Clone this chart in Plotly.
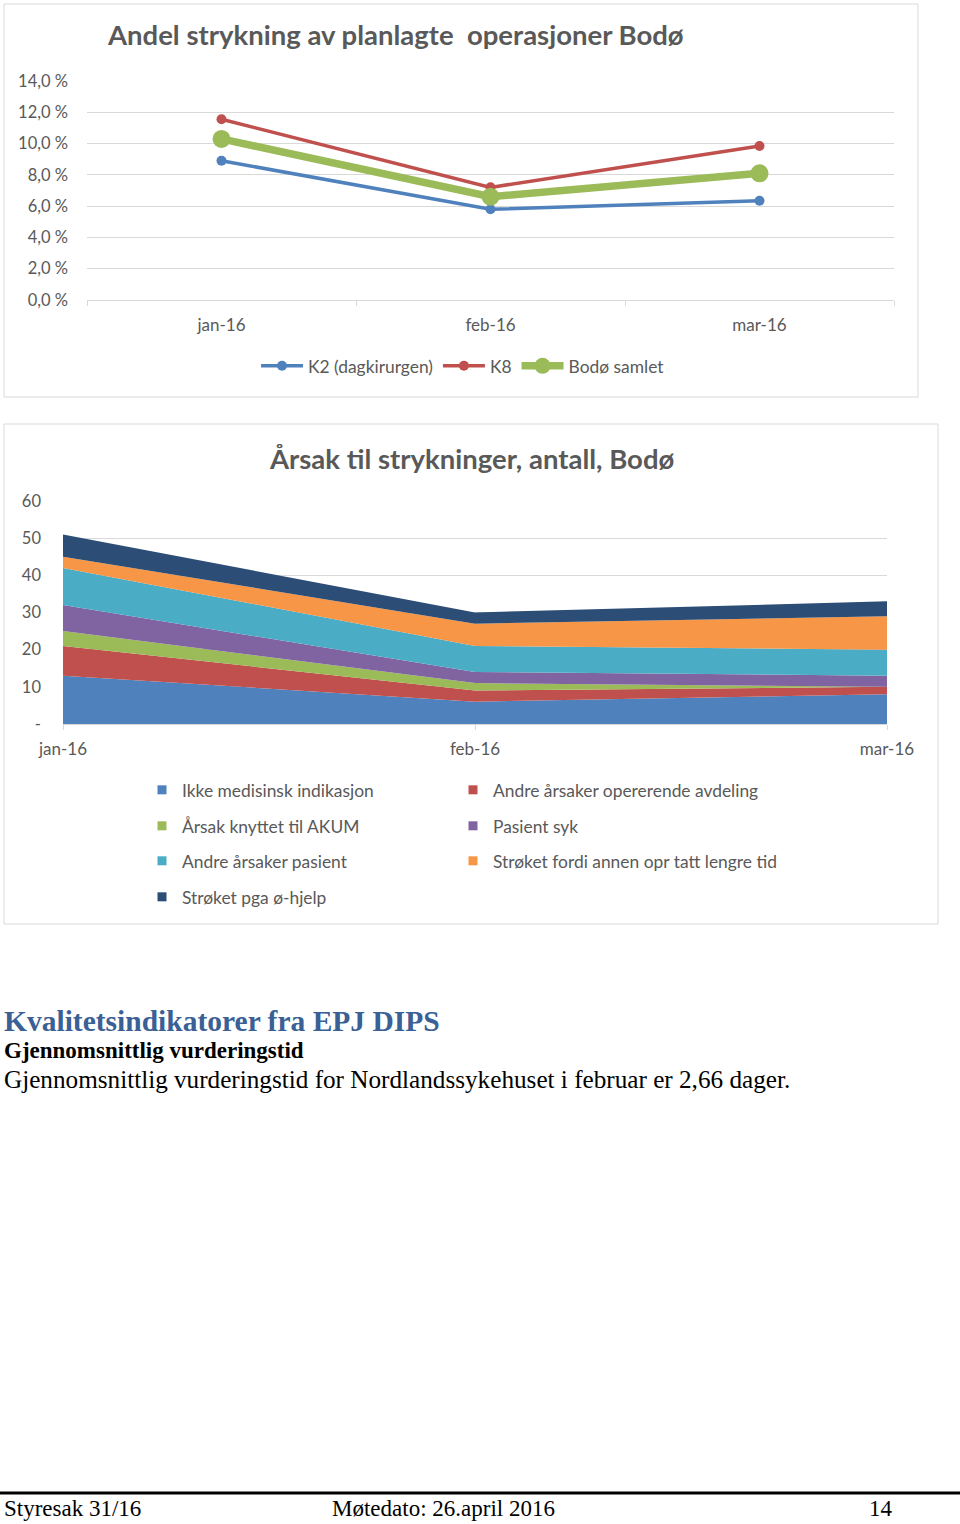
import plotly.graph_objects as go

# ---------------- data ----------------
months = ["jan-16", "feb-16", "mar-16"]

# Chart 1: share of cancelled planned operations (%)
k2_dagkirurgen = [8.9, 5.8, 6.35]
k8 = [11.55, 7.2, 9.85]
bodo_samlet = [10.3, 6.6, 8.1]

# Chart 2: causes of cancellations, counts (stacked)
ikke_medisinsk = [13, 6, 8]
andre_opererende = [8, 3, 2]
akum = [4, 2, 0]
pasient_syk = [7, 3, 3]
andre_pasient = [10, 7, 7]
annen_opr_lengre = [3, 6, 9]
oe_hjelp = [6, 3, 4]

area_series = [
    ("Ikke medisinsk indikasjon", ikke_medisinsk, "#4F81BD"),
    ("Andre årsaker opererende avdeling", andre_opererende, "#C0504D"),
    ("Årsak knyttet til AKUM", akum, "#9BBB59"),
    ("Pasient syk", pasient_syk, "#8064A2"),
    ("Andre årsaker pasient", andre_pasient, "#4BACC6"),
    ("Strøket fordi annen opr tatt lengre tid", annen_opr_lengre, "#F79646"),
    ("Strøket pga ø-hjelp", oe_hjelp, "#2C4D75"),
]

area_yticks = [0, 10, 20, 30, 40, 50, 60]
area_yticktext = ["-", "10", "20", "30", "40", "50", "60"]

W, H = 960, 1524
def xp(px):
    return px / W
def yp(py):
    return 1 - py / H

FONT = "Lato"
GRAY = "#595959"
GRID = "#D9D9D9"
LEG_SIZE = 17.4
TICK_SIZE = 16.5

fig = go.Figure()

# ---- chart 1 lines ----
line_series = [
    ("K2 (dagkirurgen)", k2_dagkirurgen, "#4F81BD", 3.5, 10),
    ("K8", k8, "#C0504D", 3.5, 10),
    ("Bodø samlet", bodo_samlet, "#9BBB59", 7.5, 18),
]
for name, vals, col, lw, ms in line_series:
    fig.add_trace(go.Scatter(
        x=months, y=vals, name=name, mode="lines+markers",
        line=dict(color=col, width=lw), marker=dict(color=col, size=ms),
        xaxis="x", yaxis="y", legend="legend"))

# ---- chart 2 stacked areas ----
for name, vals, col in area_series:
    fig.add_trace(go.Scatter(
        x=months, y=vals, name=name, mode="none", stackgroup="one",
        fillcolor=col, xaxis="x2", yaxis="y2", showlegend=False))

# legend entries (square markers as in the original); position = text start
legend_pos = {
    "Ikke medisinsk indikasjon": (182, 790),
    "Årsak knyttet til AKUM": (182, 826),
    "Andre årsaker pasient": (182, 861),
    "Strøket pga ø-hjelp": (182, 897),
    "Andre årsaker opererende avdeling": (493, 790),
    "Pasient syk": (493, 826),
    "Strøket fordi annen opr tatt lengre tid": (493, 861),
}
legend_layouts = {}
for i, (name, vals, col) in enumerate(area_series):
    lid = f"legend{i + 2}"
    fig.add_trace(go.Scatter(
        x=[None], y=[None], name=name, mode="markers",
        marker=dict(symbol="square", size=9, color=col),
        xaxis="x2", yaxis="y2", legend=lid, showlegend=True))
    px_, py_ = legend_pos[name]
    legend_layouts[lid] = dict(
        x=xp(px_ - 40), y=yp(py_), xanchor="left", yanchor="middle",
        orientation="v", bgcolor="rgba(0,0,0,0)", borderwidth=0,
        font=dict(family=FONT, size=LEG_SIZE, color=GRAY))

fig.update_layout(
    width=W, height=H,
    margin=dict(l=0, r=0, t=0, b=0, autoexpand=False),
    paper_bgcolor="white", plot_bgcolor="white",
    separators=", ",
    font=dict(family=FONT, size=16, color=GRAY),
    showlegend=True,
    legend=dict(
        orientation="h", x=xp(463), y=yp(366), xanchor="center", yanchor="middle",
        traceorder="normal",
        bgcolor="rgba(0,0,0,0)", font=dict(family=FONT, size=LEG_SIZE, color=GRAY),
        itemwidth=42),
    **legend_layouts,
    xaxis=dict(
        domain=[xp(87), xp(894)], anchor="y", type="category",
        range=[-0.5, 2.5], tickson="boundaries", ticks="outside", ticklen=5,
        tickcolor=GRID, showline=True, linecolor=GRID, linewidth=1,
        showgrid=False, ticklabelstandoff=10,
        tickfont=dict(family=FONT, size=17, color=GRAY), fixedrange=True),
    yaxis=dict(
        domain=[yp(300), yp(81)], anchor="x", range=[0, 14], dtick=2,
        tickformat=".1f", ticksuffix=" %", showgrid=True, gridcolor=GRID,
        zeroline=False, ticks="", ticklabelstandoff=18,
        tickfont=dict(family=FONT, size=TICK_SIZE, color=GRAY), fixedrange=True),
    xaxis2=dict(
        domain=[xp(63), xp(887)], anchor="y2", type="category",
        range=[0, 2], ticks="outside", ticklen=5, tickcolor=GRID,
        showline=True, linecolor=GRID, linewidth=1, showgrid=False,
        ticklabelstandoff=5,
        tickfont=dict(family=FONT, size=17, color=GRAY), fixedrange=True),
    yaxis2=dict(
        domain=[yp(724), yp(501)], anchor="x2", range=[0, 60],
        tickvals=area_yticks, ticktext=area_yticktext,
        showgrid=True, gridcolor=GRID, zeroline=False, ticks="",
        ticklabelstandoff=21,
        tickfont=dict(family=FONT, size=TICK_SIZE, color=GRAY), fixedrange=True),
)

# chart frames
fig.add_shape(type="rect", xref="paper", yref="paper",
              x0=xp(4), x1=xp(918), y0=yp(397), y1=yp(4),
              line=dict(color=GRID, width=1), fillcolor="rgba(0,0,0,0)", layer="below")
fig.add_shape(type="rect", xref="paper", yref="paper",
              x0=xp(4), x1=xp(938), y0=yp(924), y1=yp(424),
              line=dict(color=GRID, width=1), fillcolor="rgba(0,0,0,0)", layer="below")
# footer rule
fig.add_shape(type="line", xref="paper", yref="paper",
              x0=0, x1=1, y0=yp(1493), y1=yp(1493),
              line=dict(color="black", width=3))

ann = []
ann.append(dict(text="<b>Andel strykning av planlagte  operasjoner Bodø</b>",
                x=xp(395), y=yp(35), font=dict(family=FONT, size=27.5, color=GRAY)))
ann.append(dict(text="<b>Årsak til strykninger, antall, Bodø</b>",
                x=xp(471), y=yp(458), font=dict(family=FONT, size=27.5, color=GRAY)))
SERIF = "Liberation Serif"
ann.append(dict(text="<b>Kvalitetsindikatorer fra EPJ DIPS</b>", x=xp(2), y=yp(1021),
                xanchor="left", font=dict(family=SERIF, size=29.5, color="#3A6095")))
ann.append(dict(text="<b>Gjennomsnittlig vurderingstid</b>", x=xp(2), y=yp(1050),
                xanchor="left", font=dict(family=SERIF, size=23, color="black")))
ann.append(dict(text="Gjennomsnittlig vurderingstid for Nordlandssykehuset i februar er 2,66 dager.",
                x=xp(2), y=yp(1079), xanchor="left",
                font=dict(family=SERIF, size=25.2, color="black")))
ann.append(dict(text="Styresak 31/16", x=xp(2), y=yp(1508), xanchor="left",
                font=dict(family=SERIF, size=23, color="black")))
ann.append(dict(text="Møtedato: 26.april 2016", x=xp(330), y=yp(1508), xanchor="left",
                font=dict(family=SERIF, size=23, color="black")))
ann.append(dict(text="14", x=xp(867), y=yp(1508), xanchor="left",
                font=dict(family=SERIF, size=23, color="black")))
for a in ann:
    a.setdefault("xanchor", "center")
    a.update(xref="paper", yref="paper", yanchor="middle", showarrow=False)
fig.update_layout(annotations=ann)

fig.write_html("out.html")
